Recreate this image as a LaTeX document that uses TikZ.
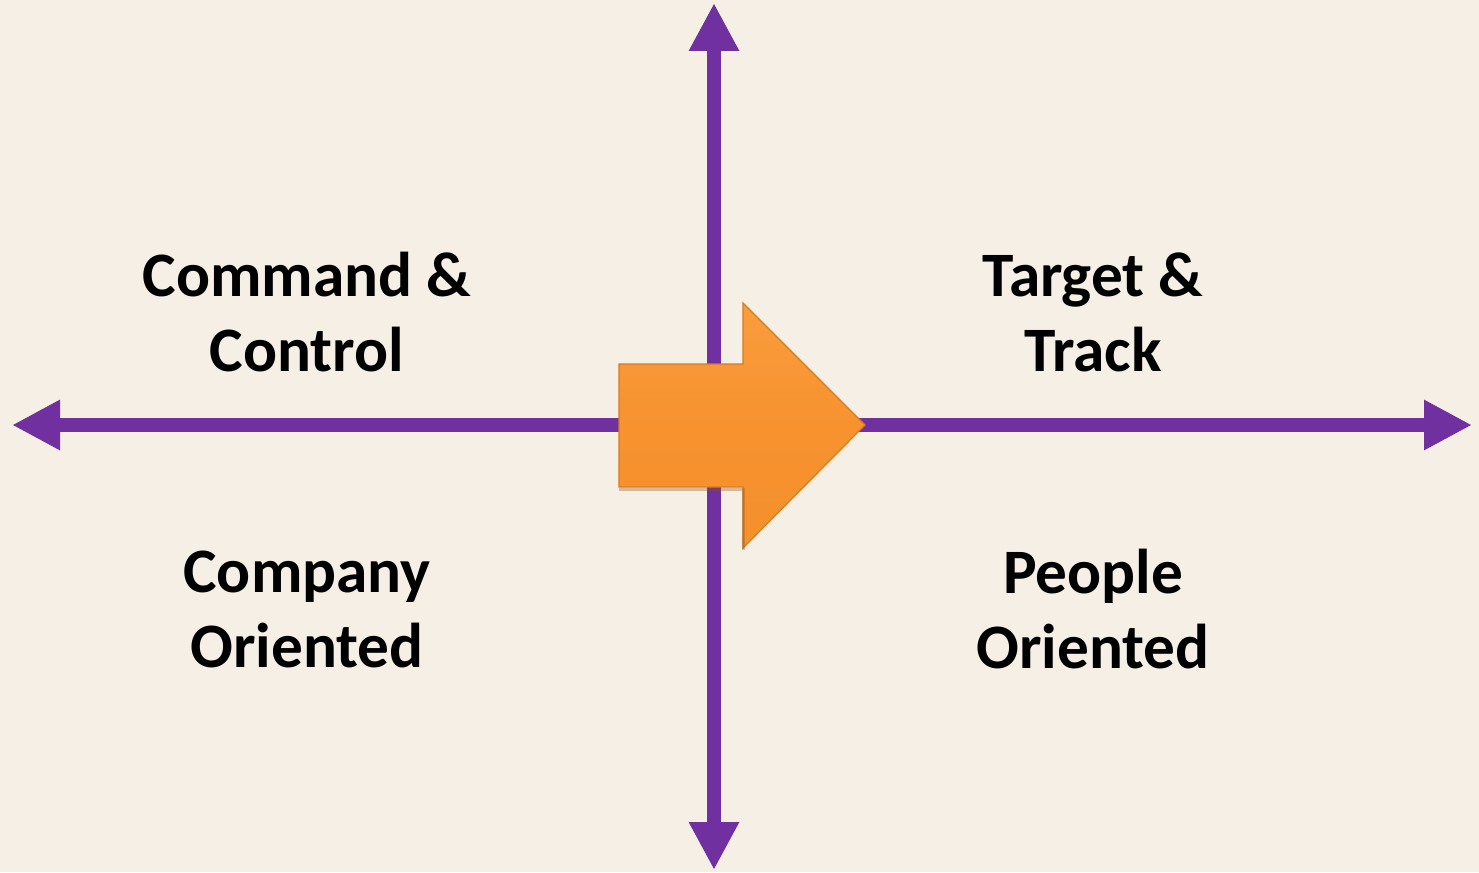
\documentclass[tikz,border=0pt]{standalone}
\usepackage{fontspec}
\setmainfont{Carlito}
\usetikzlibrary{arrows.meta}
\definecolor{bgc}{HTML}{F5EFE5}
\definecolor{axisc}{HTML}{7030A0}
\definecolor{orangec}{HTML}{F7922F}
\definecolor{orangedark}{HTML}{D97A1F}
\definecolor{orangelight}{HTML}{F99D3D}
\tikzset{
  axis/.style={draw=axisc, line width=14pt, {Triangle[length=48pt,width=47pt]}-{Triangle[length=48pt,width=47pt]}},
  lbl/.style={font=\fontsize{63.3}{75}\selectfont\bfseries, align=center, text=black, inner sep=0pt},
}
\begin{document}
\begin{tikzpicture}[x=1pt,y=-1pt]
\fill[bgc] (0,0) rectangle (1479,872);
\useasboundingbox (0,0) rectangle (1479,872);
\coordinate (L) at (12,425);
\coordinate (R) at (1472,425);
\coordinate (T) at (714,3);
\coordinate (B) at (714,870);
\draw[axis] (L) -- (R);
\draw[axis] (T) -- (B);
% orange arrow
\coordinate (a1) at (619,364);
\coordinate (a2) at (743,364);
\coordinate (a3) at (743,303);
\coordinate (a4) at (865,425);
\coordinate (a5) at (743,548);
\coordinate (a6) at (743,487);
\coordinate (a7) at (619,487);
\shade[top color=orangelight, bottom color=orangec!90!orangedark, middle color=orangec, draw=orangedark, line width=1.2pt, line join=miter]
  (a1) -- (a2) -- (a3) -- (a4) -- (a5) -- (a6) -- (a7) -- cycle;
\draw[orangedark!70!black, opacity=0.35, line width=3pt] ([yshift=-2pt]a7) -- ([yshift=-2pt]a6) -- ([yshift=-2pt]a5);
\node[lbl] (cc) at (307,312) {Command \&\\Control};
\node[lbl] (tt) at (1093,312) {Target \&\\Track};
\node[lbl] (co) at (307,609) {Company\\Oriented};
\node[lbl] (po) at (1093,609) {People\\Oriented};
\end{tikzpicture}
\end{document}
